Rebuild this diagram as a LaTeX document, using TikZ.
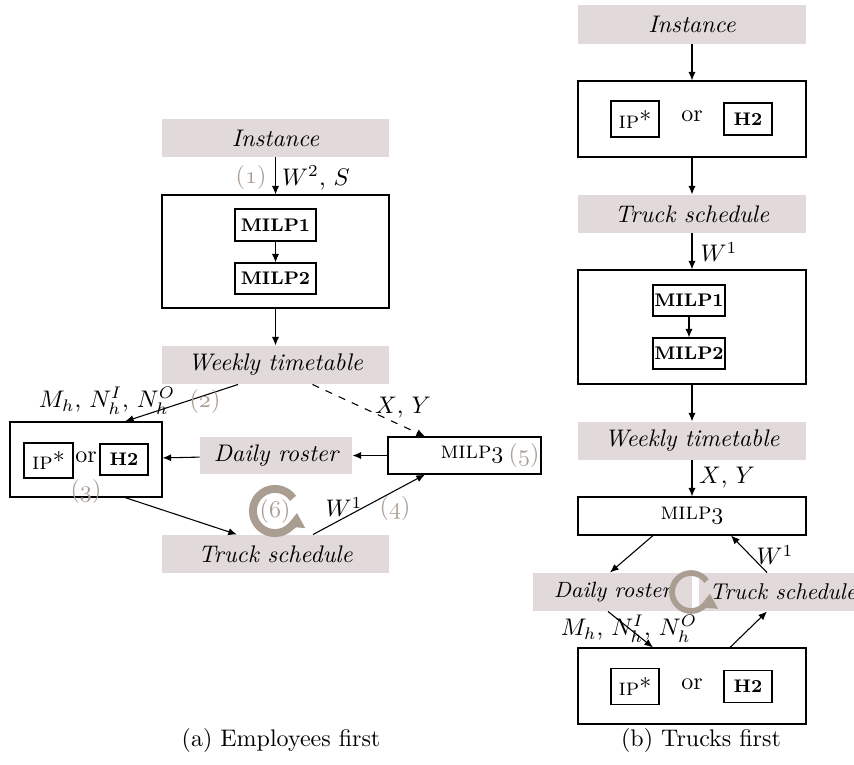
\documentclass[tikz,border=0pt]{standalone}
\usepackage{fontspec}
\usetikzlibrary{arrows.meta,calc}
\definecolor{shade}{RGB}{226,218,218}
\definecolor{acc}{RGB}{170,157,146}
\def\pxu{0.41667pt}
\newcommand\osf[1]{$\mathnormal{#1}$}
\newcommand\bsc{\fontsize{7.6}{9}\selectfont\bfseries}
\tikzset{
 sz/.style 2 args={minimum width=#1*\pxu, minimum height=#2*\pxu, inner sep=0pt},
 shaded/.style={fill=shade, font=\itshape},
 frame/.style={draw, line width=0.45pt},
 conn/.style={-{Latex[length=3.6pt,width=3pt]}, line width=0.45pt},
 num/.style={text=acc, inner sep=0pt},
 lbl/.style={inner sep=0pt},
 ring/.style={draw=acc, line width=#1, -{Triangle[length=6pt,width=7.5pt]}},
}
\begin{document}
\begin{tikzpicture}[x=0.41667pt, y=-0.41667pt]
\useasboundingbox (0,0) rectangle (854,764);
% ---------- (a) ----------
\node[shaded, sz={227}{38}] (instA) at (275.5,138) {Instance};
\node[frame, sz={227}{113}] (boxA) at (275.5,251.5) {};
\node[frame, sz={81}{32}] (milp1A) at (275.5,225) {\bsc MILP1};
\node[frame, sz={81}{31}] (milp2A) at (275.5,278.5) {\bsc MILP2};
\node[shaded, sz={227}{38}] (weekA) at (275.5,365) {Weekly timetable};
\node[frame, sz={152}{75}] (ipboxA) at (86,459.5) {};
\node[frame, sz={49}{35}] (ipA) at (48.5,460.5) {\textsc{ip}*};
\node[lbl] (orA) at (86,457) {or};
\node[frame, sz={48}{31}] (h2A) at (124,459.5) {\bsc H2};
\node[shaded, sz={152}{37}] (dailyA) at (276,455.5) {Daily roster};
\node[frame, sz={153}{37}] (milp3A) at (464.5,455.5) {};
\node[lbl] (milp3tA) at (472,455) {\textsc{milp}\osf{3}};
\node[num] (n5) at (524,455) {(\osf{5})};
\node[shaded, sz={227}{38}] (truckA) at (275.5,554) {Truck schedule};

\draw[conn] (instA) -- (boxA);
\node[num] (n1) at (251,177) {(\osf{1})};
\node[lbl] (wsA) at (316,178) {$W^2$, $S$};
\draw[conn] (milp1A) -- (milp2A);
\draw[conn] (boxA) -- (weekA);
\draw[conn] ($(weekA.south)+(-37.5,0)$) -- ($(ipboxA.north)+(39,0)$);
\node[lbl] (mhA) at (107,401) {$M_h$, $N_h^I$, $N_h^O$};
\node[num] (n2) at (205,401) {(\osf{2})};
\draw[conn, dashed] ($(weekA.south)+(37,0)$) -- ($(milp3A.north)+(-39.5,0)$);
\node[lbl] (xyA) at (403,408) {$X$, $Y$};
\draw[conn] (milp3A) -- (dailyA);
\draw[conn] (dailyA) -- (ipboxA);
\node[num] (n3) at (86,491) {(\osf{3})};
\draw[conn] ($(ipboxA.south)+(39,0)$) -- ($(truckA.north)+(-38.5,0)$);
\draw[conn] ($(truckA.north)+(37.5,0)$) -- ($(milp3A.south)+(-39.5,0)$);
\node[lbl] (w1A) at (344,507) {$W^1$};
\node[num] (n4) at (395,508) {(\osf{4})};
\coordinate (cA) at (275,511);
\draw[ring=3.3pt] ($(cA)+(35:9.2pt)$) arc[start angle=35, end angle=355, radius=9.2pt];
\node[num] (n6) at (275,511) {(\osf{6})};

% ---------- (b) ----------
\node[shaded, sz={228}{39}] (instB) at (692,24.5) {Instance};
\node[frame, sz={228}{76}] (boxB1) at (692,119) {};
\node[frame, sz={48}{36}] (ipB1) at (635,119) {\textsc{ip}*};
\node[lbl] (orB1) at (692,116) {or};
\node[frame, sz={48}{32}] (h2B1) at (748,119) {\bsc H2};
\node[shaded, sz={228}{38}] (truckB1) at (692,214) {Truck schedule};
\node[frame, sz={228}{114}] (boxB2) at (692,327) {};
\node[frame, sz={72}{31}] (milp1B) at (689,300.5) {\bsc MILP1};
\node[frame, sz={72}{31}] (milp2B) at (689,353.5) {\bsc MILP2};
\node[shaded, sz={228}{38}] (weekB) at (692,441) {Weekly timetable};
\node[frame, sz={228}{38}] (milp3B) at (692,516) {\textsc{milp}\osf{3}};
\node[shaded, sz={159}{38}, font=\itshape\fontsize{9.2}{11}\selectfont] (dailyB) at (612.5,592) {Daily roster\hspace{2.9pt}};
\node[shaded, sz={157}{38}, font=\itshape\fontsize{9.5}{11}\selectfont] (truckB2) at (777.5,592) {\hspace{4.6pt}Truck schedule};
\node[frame, sz={228}{76}] (boxB3) at (692,686) {};
\node[frame, sz={48}{36}] (ipB2) at (635,686.5) {\textsc{ip}*};
\node[lbl] (orB2) at (692,684) {or};
\node[frame, sz={48}{32}] (h2B2) at (748,686.5) {\bsc H2};

\draw[conn] (instB) -- (boxB1);
\draw[conn] (boxB1) -- (truckB1);
\draw[conn] (truckB1) -- (boxB2);
\node[lbl] (w1B) at (719,252) {$W^1$};
\draw[conn] (milp1B) -- (milp2B);
\draw[conn] (boxB2) -- (weekB);
\draw[conn] (weekB) -- (milp3B);
\node[lbl] (xyB) at (727,478) {$X$, $Y$};
\draw[conn] ($(milp3B.south)+(-39,0)$) -- ($(dailyB.north)+(-2.5,0)$);
\draw[conn] ($(truckB2.north)+(-10.5,0)$) -- ($(milp3B.south)+(39,0)$);
\node[lbl] (w1B2) at (775,555) {$W^1$};
\draw[conn] ($(dailyB.south)+(-4.5,0)$) -- ($(boxB3.north)+(-39,0)$);
\draw[conn] ($(boxB3.north)+(38,0)$) -- ($(truckB2.south)+(-10.5,0)$);
\node[lbl] (mhB) at (629,629) {$M_h$, $N_h^I$, $N_h^O$};
\coordinate (cB) at (691,592);
\draw[ring=2.4pt] ($(cB)+(35:7.9pt)$) arc[start angle=35, end angle=355, radius=7.9pt];

% ---------- captions ----------
\node[lbl] (capA) at (281,740) {(a) Employees first};
\node[lbl] (capB) at (701,740) {(b) Trucks first};
\end{tikzpicture}
\end{document}
